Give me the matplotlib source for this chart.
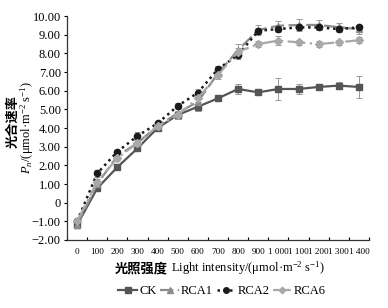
import matplotlib
matplotlib.use("Agg")
import matplotlib.pyplot as plt
from matplotlib.lines import Line2D
import numpy as np

plt.rcParams['font.family'] = ['Liberation Serif', 'Noto Sans CJK SC']
plt.rcParams['mathtext.fontset'] = 'custom'
plt.rcParams['mathtext.rm'] = 'Liberation Serif'
plt.rcParams['mathtext.it'] = 'Liberation Serif:italic'

categories = ['0', '100', '200', '300', '400', '500', '600', '700', '800', '900',
              '1 000', '1 100', '1 200', '1 300', '1 400']

ck = [-1.20, 0.77, 1.90, 2.91, 4.00, 4.70, 5.14, 5.59, 6.09, 5.91, 6.09, 6.09, 6.20, 6.27, 6.20]
ck_err = [0.15, 0.12, 0.10, 0.12, 0.15, 0.20, 0.25, 0.10, 0.25, 0.10, 0.60, 0.25, 0.10, 0.20, 0.60]

rca1 = [-1.20, 1.00, 2.50, 3.20, 4.10, 4.80, 5.41, 6.93, 8.18, 9.25, 9.48, 9.52, 9.52, 9.40, 9.29]
rca1_err = [0.15, 0.15, 0.15, 0.20, 0.20, 0.25, 0.25, 0.20, 0.30, 0.25, 0.25, 0.30, 0.25, 0.20, 0.25]

rca2 = [-1.00, 1.57, 2.73, 3.57, 4.25, 5.18, 5.89, 7.16, 7.91, 9.21, 9.30, 9.39, 9.39, 9.30, 9.39]
rca2_err = [0.10, 0.20, 0.10, 0.20, 0.15, 0.15, 0.20, 0.15, 0.20, 0.15, 0.15, 0.15, 0.15, 0.15, 0.15]

rca6 = [-1.00, 1.13, 2.38, 3.20, 4.10, 4.70, 5.60, 6.84, 8.09, 8.50, 8.68, 8.59, 8.50, 8.59, 8.70]
rca6_err = [0.10, 0.15, 0.15, 0.20, 0.20, 0.20, 0.20, 0.20, 0.20, 0.15, 0.25, 0.15, 0.15, 0.15, 0.15]

series = [
    ('CK', ck, ck_err, '#555555', '-', 's', 1.6),
    ('RCA1', rca1, rca1_err, '#8c8c8c', (0, (6, 2)), '^', 1.6),
    ('RCA2', rca2, rca2_err, '#1a1a1a', (0, (1, 1.5)), 'o', 1.8),
    ('RCA6', rca6, rca6_err, '#a8a8a8', (0, (8, 2, 1, 2)), 'D', 1.6),
]

fig = plt.figure(figsize=(3.88, 3.08), dpi=100)
ax = fig.add_axes([67/388, 1-240/308, (369-67)/388, (240-16)/308])

x = np.arange(len(categories))
handles = []
for name, vals, err, col, ls, mk, lw in series:
    ms = 4.5 if mk != 'D' else 3.8
    ax.errorbar(x, vals, yerr=err, color=col, linestyle=ls, marker=mk,
                markersize=ms, linewidth=lw, elinewidth=0.7, ecolor='#999999',
                capsize=2.5, capthick=0.7)
    handles.append(Line2D([], [], color=col, linestyle=ls, marker=mk,
                          markersize=ms - 0.5, linewidth=lw, label=name))

ax.set_xlim(-0.5, len(categories) - 0.5)
ax.set_ylim(-2, 10)
ax.set_yticks(np.arange(-2, 10.1, 1))
ax.set_yticklabels(['\u22122.00', '\u22121.00', '0', '1.00', '2.00', '3.00', '4.00', '5.00',
                    '6.00', '7.00', '8.00', '9.00', '10.00'], fontsize=9)
ax.set_xticks(x)
ax.set_xticklabels(categories, fontsize=6.6)
ax.set_xticks(np.arange(-0.5, len(categories), 1), minor=True)
ax.tick_params(axis='x', which='major', length=0, pad=6)
ax.tick_params(axis='x', which='minor', length=2.5, direction='in', width=0.8)
ax.tick_params(axis='y', length=2.5, width=0.8, pad=2)
for s in ['top', 'right']:
    ax.spines[s].set_visible(False)
for s in ['left', 'bottom']:
    ax.spines[s].set_linewidth(0.9)
    ax.spines[s].set_color('#333333')

# y label
fig.text(12/388, 1-122/308, '光合速率', rotation=90, ha='center', va='center',
         fontsize=9.5, fontweight='bold', family=['Noto Sans CJK SC'])
fig.text(27/388, 1-128/308, r'$P_n$/(μmol·m$^{-2}$ s$^{-1}$)', rotation=90,
         ha='center', va='center', fontsize=9)

# x label
fig.text(168/388, 1-268/308, '光照强度', ha='right', va='center',
         fontsize=9.5, fontweight='bold', family=['Noto Sans CJK SC'])
fig.text(171/388, 1-268/308, r'Light intensity/(μmol·m$^{-2}$ s$^{-1}$)',
         ha='left', va='center', fontsize=9)

fig.legend(handles=handles, loc='center', bbox_to_anchor=(222/388, 1-291/308),
           ncol=4, frameon=False, fontsize=9, handlelength=1.5, handletextpad=0.15,
           columnspacing=0.3, borderaxespad=0)

fig.savefig('out.png', dpi=100)
